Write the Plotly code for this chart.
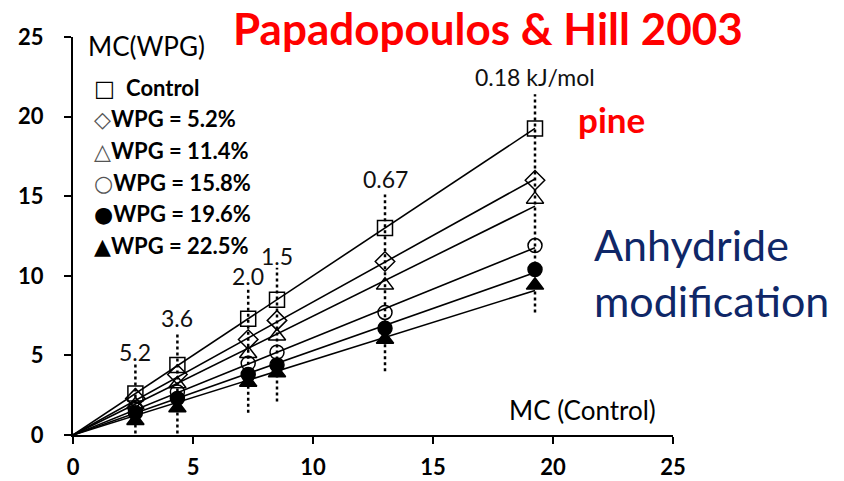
import numpy as np
import plotly.graph_objects as go

# ---- data ----
mc_control = [2.6, 4.35, 7.3, 8.5, 13.0, 19.25]
series_names = ["Control", "WPG = 5.2%", "WPG = 11.4%", "WPG = 15.8%", "WPG = 19.6%", "WPG = 22.5%"]
control = [2.6, 4.4, 7.3, 8.5, 13.0, 19.25]
wpg_5_2 = [2.3, 3.8, 6.0, 7.2, 10.9, 16.0]
wpg_11_4 = [1.9, 3.2, 5.1, 6.2, 9.4, 14.8]
wpg_15_8 = [1.6, 2.7, 4.5, 5.2, 7.7, 11.9]
wpg_19_6 = [1.4, 2.3, 3.8, 4.4, 6.7, 10.4]
wpg_22_5 = [0.9, 1.7, 3.3, 3.9, 6.0, 9.4]
series_values = [control, wpg_5_2, wpg_11_4, wpg_15_8, wpg_19_6, wpg_22_5]

energy_labels = ["5.2", "3.6", "2.0", "1.5", "0.67", "0.18 kJ/mol"]
dot_top = [4.6, 6.4, 9.2, 10.5, 15.1, 21.4]
dot_bottom = [0.1, 0.1, 1.4, 2.1, 4.0, 7.7]
label_y = [5.2, 7.35, 10.0, 11.25, 16.1, 22.5]

x_ticks = [0, 5, 10, 15, 20, 25]
y_ticks = [0, 5, 10, 15, 20, 25]

# ---- styles ----
symbols = ["square-open", "diamond-open", "triangle-up-open", "circle-open", "circle", "triangle-up"]
sizes = [15, 15, 15, 14, 14, 15]
legend_chars = ["□", "◇", "△", "○", "●", "▲"]
legend_char_colors = ["#000000", "#555555", "#555555", "#555555", "#000000", "#000000"]
FONT = "Lato"

fig = go.Figure()

# dotted vertical guides
for xv, y0, y1 in zip(mc_control, dot_bottom, dot_top):
    fig.add_shape(type="line", x0=xv, x1=xv, y0=y0, y1=y1, xref="x", yref="y",
                  line=dict(color="black", width=2.5, dash="dot"), layer="below")

# fitted lines through origin + markers
xs = np.array(mc_control)
for name, vals, sym, sz in zip(series_names, series_values, symbols, sizes):
    v = np.array(vals)
    slope = float((xs * v).sum() / (xs * xs).sum())
    fig.add_trace(go.Scatter(x=[0, xs.max()], y=[0, slope * xs.max()], mode="lines",
                             line=dict(color="black", width=1.6), showlegend=False,
                             hoverinfo="skip"))
    fig.add_trace(go.Scatter(x=mc_control, y=vals, mode="markers", name=name,
                             marker=dict(symbol=sym, size=sz, color="black",
                                         line=dict(color="black", width=1.5)),
                             showlegend=False))

# energy labels above the guides
for xv, yv, t in zip(mc_control, label_y, energy_labels):
    fig.add_annotation(x=xv, y=yv, xref="x", yref="y", text=t, showarrow=False,
                       font=dict(family=FONT, size=23, color="#111111"),
                       xanchor="center", yanchor="middle")

# manual legend (symbol + text)
legend_y0 = 0.874
legend_dy = 0.0795
for i, (ch, col, name) in enumerate(zip(legend_chars, legend_char_colors, series_names)):
    sep = "  " if i == 0 else ""
    fig.add_annotation(
        x=0.031, y=legend_y0 - i * legend_dy, xref="paper", yref="paper",
        text=f"<span style='font-family:DejaVu Sans;color:{col}'>{ch}</span>{sep}<b>{name}</b>",
        showarrow=False, xanchor="left", yanchor="middle",
        font=dict(family=FONT, size=22, color="black"))

# axis titles
fig.add_annotation(x=0.0217, y=0.977, xref="paper", yref="paper", text="MC(WPG)",
                   showarrow=False, xanchor="left", yanchor="middle",
                   font=dict(family=FONT, size=26, color="black"))
fig.add_annotation(x=0.975, y=0.0628, xref="paper", yref="paper", text="MC (Control)",
                   showarrow=False, xanchor="right", yanchor="middle",
                   font=dict(family=FONT, size=26, color="black"))

# titles / notes (paper coords relative to plot area: x 73..673 px, y 435..37 px)
fig.add_annotation(x=0.6917, y=1.0226, xref="paper", yref="paper",
                   text="<b>Papadopoulos &amp; Hill 2003</b>", showarrow=False,
                   xanchor="center", yanchor="middle",
                   font=dict(family=FONT, size=44, color="#ff0000"))
fig.add_annotation(x=0.898, y=0.795, xref="paper", yref="paper",
                   text="<b>pine</b>", showarrow=False, xanchor="center", yanchor="middle",
                   font=dict(family=FONT, size=35, color="#ff0000"))
fig.add_annotation(x=0.865, y=0.4095, xref="paper", yref="paper",
                   text="Anhydride<br>modification", showarrow=False,
                   xanchor="left", yanchor="middle", align="left",
                   font=dict(family=FONT, size=43, color="#0f2767"))

fig.update_xaxes(range=[0, 25], tickvals=x_ticks, showgrid=False, zeroline=False,
                 showline=True, linecolor="black", linewidth=2, automargin=False,
                 ticks="outside", ticklen=7, tickwidth=2, tickcolor="black",
                 ticklabelstandoff=5,
                 tickfont=dict(family=FONT, size=22, color="black", weight="bold"))
fig.update_yaxes(range=[0, 25], tickvals=y_ticks, showgrid=False, zeroline=False,
                 showline=True, linecolor="black", linewidth=2, automargin=False,
                 ticks="outside", ticklen=7, tickwidth=2, tickcolor="black",
                 ticklabelstandoff=16,
                 tickfont=dict(family=FONT, size=22, color="black", weight="bold"))

fig.update_layout(width=844, height=481, margin=dict(l=73, r=171, t=37, b=46),
                  plot_bgcolor="white", paper_bgcolor="white", showlegend=False)

fig.write_html("out.html")
